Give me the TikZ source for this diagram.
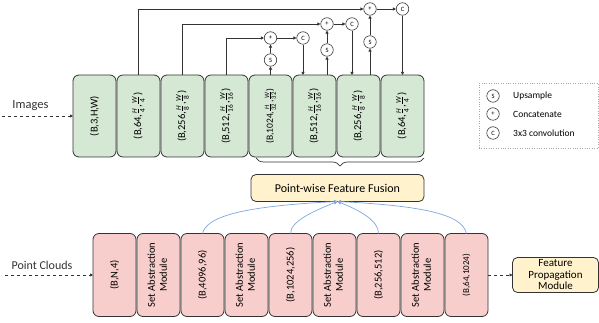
\documentclass[tikz,border=0pt]{standalone}
\usepackage{amsmath}
\usepackage{fontspec}
\setmainfont{Carlito}
\usepackage{tikz}
\usetikzlibrary{calc, arrows.meta, positioning, decorations.pathreplacing}
\definecolor{imgfill}{HTML}{D5E8D4}
\definecolor{pcfill}{HTML}{F8CECC}
\definecolor{fusefill}{HTML}{FFF2CC}
\definecolor{fuseblue}{HTML}{7EA6E0}
\definecolor{edgegray}{HTML}{333333}
\newcommand{\frc}[2]{$\frac{\textit{#1}}{\text{#2}}$}
\newcommand{\vtext}[1]{\rotatebox{90}{#1}}

\begin{document}
\begin{tikzpicture}[x=1pt, y=1pt,
    img/.style={draw=edgegray, fill=imgfill, rounded corners=6pt, line width=0.8pt,
                minimum width=43pt, minimum height=82pt, inner sep=0pt, outer sep=0pt,
                font=\fontsize{10.5}{11}\selectfont},
    pc/.style={draw=edgegray, fill=pcfill, rounded corners=6pt, line width=0.8pt,
               minimum width=43pt, minimum height=83pt, inner sep=0pt, outer sep=0pt,
               font=\fontsize{10.5}{12}\selectfont},
    fuse/.style={draw=edgegray, fill=fusefill, rounded corners=5pt, line width=0.8pt,
                 align=center, inner sep=0pt, outer sep=0pt},
    op/.style={draw=edgegray, circle, fill=white, minimum size=12.5pt, inner sep=0pt,
               line width=0.6pt, font=\fontsize{6.5}{7}\selectfont},
    lgtext/.style={inner sep=0pt, font=\fontsize{9.5}{10}\selectfont},
    arr/.style={-{Triangle[length=3pt,width=3pt]}, edgegray, line width=0.7pt},
    dasharr/.style={-{Triangle[length=3pt,width=3pt]}, edgegray, dashed, line width=0.7pt},
    fan/.style={-{Triangle[length=3.5pt,width=3.5pt]}, fuseblue, line width=0.7pt},
    node distance=0pt and 1pt
]
    \useasboundingbox (0,0) rectangle (599,323);

    \node[img] (img1) at (94.5,207) {\vtext{(B,3,H,W)}};
    \node[img, right=of img1] (img2) {\vtext{(B,64,\frc{H}{4},\frc{W}{4})}};
    \node[img, right=of img2] (img3) {\vtext{(B,256,\frc{H}{8},\frc{W}{8})}};
    \node[img, right=of img3] (img4) {\vtext{(B,512,\frc{H}{16},\frc{W}{16})}};
    \node[img, right=of img4, font=\fontsize{9.5}{10}\selectfont] (img5) {\vtext{(B,1024,\frc{H}{32},\frc{W}{32})}};
    \node[img, right=of img5] (img6) {\vtext{(B,512,\frc{H}{16},\frc{W}{16})}};
    \node[img, right=of img6] (img7) {\vtext{(B,256,\frc{H}{8},\frc{W}{8})}};
    \node[img, right=of img7] (img8) {\vtext{(B,64,\frc{H}{4},\frc{W}{4})}};

    \node[pc] (pc1) at (114.5,48) {\vtext{(B,N,4)}};
    \node[pc, right=of pc1] (pc2) {\vtext{\begin{tabular}{@{}c@{}}Set Abstraction\\Module\end{tabular}}};
    \node[pc, right=of pc2] (pc3) {\vtext{(B,4096,96)}};
    \node[pc, right=of pc3] (pc4) {\vtext{\begin{tabular}{@{}c@{}}Set Abstraction\\Module\end{tabular}}};
    \node[pc, right=of pc4] (pc5) {\vtext{(B,1024,256)}};
    \node[pc, right=of pc5] (pc6) {\vtext{\begin{tabular}{@{}c@{}}Set Abstraction\\Module\end{tabular}}};
    \node[pc, right=of pc6] (pc7) {\vtext{(B,256,512)}};
    \node[pc, right=of pc7] (pc8) {\vtext{\begin{tabular}{@{}c@{}}Set Abstraction\\Module\end{tabular}}};
    \node[pc, right=of pc8, font=\fontsize{9}{10}\selectfont] (pc9) {\vtext{(B,64,1024)}};

    \node[fuse, minimum width=173pt, minimum height=27pt,
          font=\fontsize{12}{13}\selectfont] (fusion) at (337.5,135) {Point-wise Feature Fusion};
    \node[fuse, minimum width=86pt, minimum height=35pt,
          font=\fontsize{11}{11.5}\selectfont] (fpm) at (555.5,48) {Feature\\Propagation\\Module};

    \node[op] (p1) at (270.5,285) {+};
    \node[op] (s1) at (270.5,263) {S};
    \node[op] (c1) at (303,285) {C};
    \node[op] (p2) at (327,299) {+};
    \node[op] (s2) at (327,273) {S};
    \node[op] (c2) at (352,299) {C};
    \node[op] (p3) at (370,314) {+};
    \node[op] (s3) at (370,281) {S};
    \node[op] (c3) at (402.5,314) {C};

    \draw[arr] (img2.north) |- (p3);
    \draw[arr] (img3.north) |- (p2);
    \draw[arr] (img4.north) |- (p1);
    \draw[arr] (img5.north) -- (s1);
    \draw[arr] (s1) -- (p1);
    \draw[arr] (p1) -- (c1);
    \draw[arr] (c1) -- (c1 |- img6.north);
    \draw[arr] (s2 |- img6.north) -- (s2);
    \draw[arr] (s2) -- (p2);
    \draw[arr] (p2) -- (c2);
    \draw[arr] (c2) -- (c2 |- img7.north);
    \draw[arr] (s3 |- img7.north) -- (s3);
    \draw[arr] (s3) -- (p3);
    \draw[arr] (p3) -- (c3);
    \draw[arr] (c3) -- (c3 |- img8.north);

    \draw[decorate, decoration={brace, amplitude=8pt, mirror}, edgegray, line width=0.7pt]
        ([xshift=7pt,yshift=-1pt]img5.south west) -- ([yshift=-1pt]img8.south east);

    \draw[fan] (pc3.north) .. controls +(4,16) and +(-100,-5) .. (fusion.south);
    \draw[fan] (pc5.north) .. controls +(0,12) and +(-25,-10) .. (fusion.south);
    \draw[fan] (pc7.north) .. controls +(0,12) and +(25,-10) .. (fusion.south);
    \draw[fan] (pc9.north) .. controls +(-4,16) and +(100,-5) .. (fusion.south);

    \coordinate (imgin) at (2,207);
    \coordinate (pcin) at (5,48);
    \draw[dasharr] (imgin) -- node[above=2pt, pos=0.4, font=\fontsize{12.5}{13}\selectfont]{Images} (img1.west);
    \draw[dasharr] (pcin) -- node[above=2pt, pos=0.42, font=\fontsize{12}{13}\selectfont]{Point Clouds} (pc1.west);
    \draw[dasharr] (pc9.east) -- (fpm.west);

    \node[draw=gray!70, dotted, minimum width=119pt, minimum height=65pt] (legend) at (538.5,207.5) {};
    \node[op] (lgs) at (493,227) {S};
    \node[op] (lgp) at (493,209) {+};
    \node[op] (lgc) at (493,190) {C};
    \node[lgtext, anchor=west] (lgst) at (513,227) {Upsample};
    \node[lgtext, anchor=west] (lgpt) at (513,209) {Concatenate};
    \node[lgtext, anchor=west] (lgct) at (513,190) {3x3 convolution};
\end{tikzpicture}
\end{document}
